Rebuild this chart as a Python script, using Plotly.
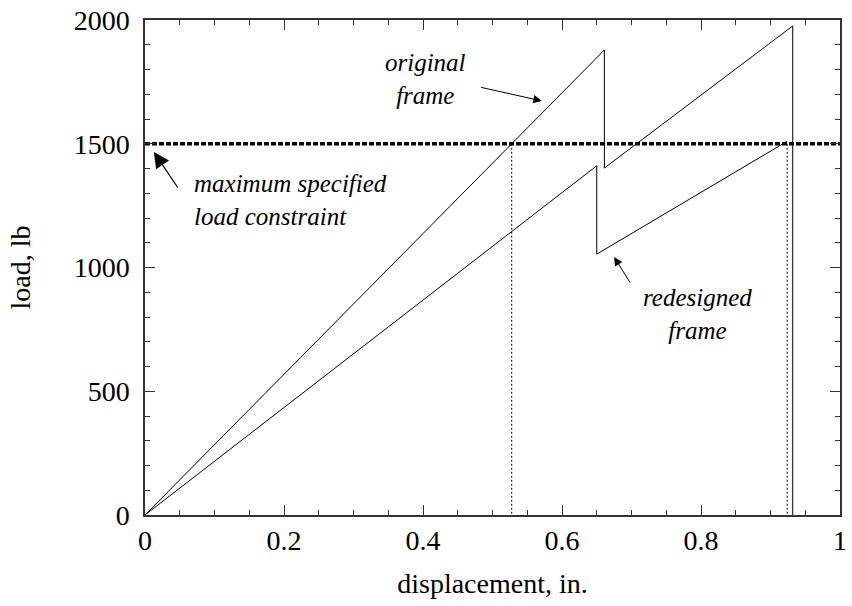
import plotly.graph_objects as go

# load-displacement curves (displacement in inches, load in lb)
orig_disp = [0.0, 0.661, 0.661, 0.932, 0.932]
orig_load = [0, 1879, 1402, 1976, 0]
redes_disp = [0.0, 0.650, 0.650, 0.924]
redes_load = [0, 1411, 1054, 1510]
max_load = 1500

x_ticks = [0, 0.2, 0.4, 0.6, 0.8, 1]
x_tick_text = ["0", "0.2", "0.4", "0.6", "0.8", "1"]
y_ticks = [0, 500, 1000, 1500, 2000]

# displacement where the original frame first reaches the constraint
orig_cross = orig_disp[1] * max_load / orig_load[1]
redes_cross = redes_disp[3]

FONT = "Liberation Serif"
SIZE = 28

fig = go.Figure()
fig.add_trace(go.Scatter(x=orig_disp, y=orig_load, mode="lines",
                         line=dict(color="black", width=1), showlegend=False))
fig.add_trace(go.Scatter(x=redes_disp, y=redes_load, mode="lines",
                         line=dict(color="black", width=1), showlegend=False))
# constraint line
fig.add_trace(go.Scatter(x=[0, 1], y=[max_load, max_load], mode="lines",
                         line=dict(color="black", width=3.5, dash="5px,2px"),
                         showlegend=False))
# drop lines from the constraint crossings
for xc in (orig_cross, redes_cross):
    fig.add_trace(go.Scatter(x=[xc, xc], y=[max_load, 0], mode="lines",
                             line=dict(color="black", width=1, dash="2px,2px"),
                             showlegend=False))

ann_font = dict(family=FONT, size=25, color="black")
fig.add_annotation(x=0.404, y=1762, xref="x", yref="y", showarrow=False,
                   text="<i>original</i><br><i>frame</i>", align="center",
                   font=ann_font)
fig.add_annotation(x=0.571, y=1673, ax=0.4815, ay=1729, xref="x", yref="y",
                   axref="x", ayref="y", text="", showarrow=True,
                   arrowhead=2, arrowsize=1.7, arrowwidth=1, arrowcolor="black")
fig.add_annotation(x=0.067, y=1273, xref="x", yref="y", showarrow=False,
                   xanchor="left",
                   text="<i>maximum specified</i><br><i>load constraint</i>",
                   align="left", font=ann_font)
fig.add_annotation(x=0.0128, y=1467, ax=0.0485, ay=1317, xref="x", yref="y",
                   axref="x", ayref="y", text="", showarrow=True,
                   arrowhead=2, arrowsize=2.6, arrowwidth=1.2, arrowcolor="black")
fig.add_annotation(x=0.795, y=812, xref="x", yref="y", showarrow=False,
                   text="<i>redesigned</i><br><i>frame</i>", align="center",
                   font=ann_font)
fig.add_annotation(x=0.675, y=1042, ax=0.6994, ay=933, xref="x", yref="y",
                   axref="x", ayref="y", text="", showarrow=True,
                   arrowhead=2, arrowsize=1.7, arrowwidth=1, arrowcolor="black")

axis_common = dict(showline=True, linecolor="#333", linewidth=1.5,
                   mirror="ticks", ticks="inside", ticklen=10, tickwidth=1.2,
                   tickcolor="#333", showgrid=False, zeroline=False,
                   tickfont=dict(family=FONT, size=SIZE, color="black"))

fig.update_xaxes(range=[0, 1], tickvals=x_ticks, ticktext=x_tick_text,
                 ticklabelstandoff=0,
                 minor=dict(ticks="inside", dtick=0.05, ticklen=5,
                            tickcolor="#333", tickwidth=1.2, showgrid=False),
                 title=dict(text="displacement, in.", standoff=18,
                            font=dict(family=FONT, size=SIZE, color="black")),
                 **axis_common)
fig.update_yaxes(range=[0, 2000], tickvals=y_ticks, ticklabelstandoff=8,
                 minor=dict(ticks="inside", dtick=100, ticklen=5,
                            tickcolor="#333", tickwidth=1.2, showgrid=False),
                 title=dict(text="load, lb", standoff=35,
                            font=dict(family=FONT, size=SIZE, color="black")),
                 **axis_common)

fig.update_layout(width=852, height=606, margin=dict(l=145, r=5, t=20, b=91),
                  plot_bgcolor="white", paper_bgcolor="white")

fig.write_html("out.html")
